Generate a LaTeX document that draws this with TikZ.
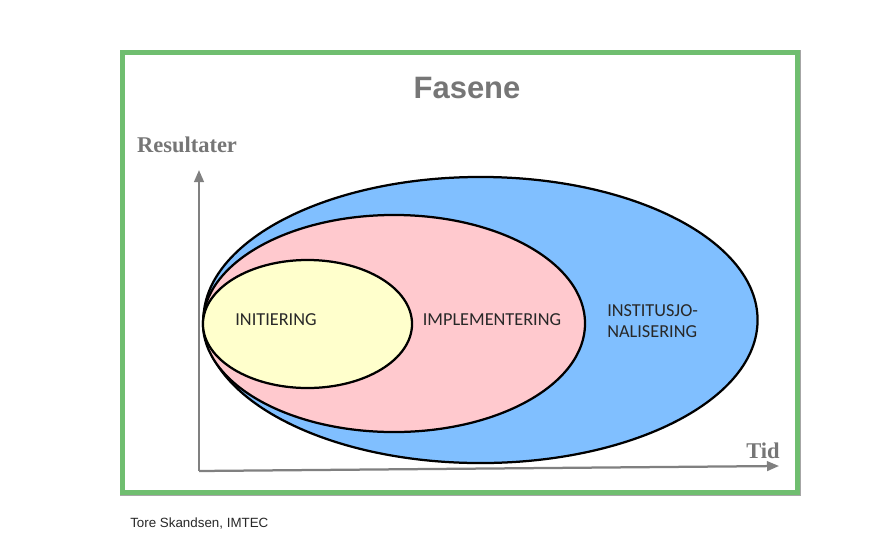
\documentclass[tikz,border=0pt]{standalone}
\usepackage{fontspec}
\setmainfont{Liberation Sans}
\newfontfamily\labelfont{Carlito}
\newfontfamily\axisfont{Liberation Serif}
\usetikzlibrary{arrows.meta,positioning,shapes.geometric}
\definecolor{fsgreen}{RGB}{112,190,112}
\definecolor{fsgray}{RGB}{128,128,128}
\definecolor{fstext}{RGB}{118,118,118}
\definecolor{fsblue}{RGB}{128,191,255}
\definecolor{fspink}{RGB}{255,201,206}
\definecolor{fsyellow}{RGB}{255,255,204}
\definecolor{fsdark}{RGB}{40,40,40}
\tikzset{
  phase/.style={ellipse, draw=black, line width=1.6pt, inner sep=0pt},
  phaselabel/.style={font=\labelfont\fontsize{13}{15}\selectfont, text=fsdark, align=left, inner sep=0pt},
  axis/.style={-{Triangle[length=3mm,width=2.4mm]}, line width=1.6pt, draw=fsgray},
  axislabel/.style={font=\axisfont\bfseries\fontsize{16}{18}\selectfont, text=fstext, inner sep=0pt}
}
\begin{document}
\begin{tikzpicture}[x=0.025cm,y=-0.025cm]
\useasboundingbox (0,0) rectangle (872,553);
\fill[white] (0,0) rectangle (872,553);
% frame
\draw[draw=fsgray!70, line width=0.5pt] (120,50) rectangle (800,495);
\draw[draw=fsgreen, line width=3pt] (122.5,52.5) rectangle (797.5,492.5);
\node[font=\bfseries\fontsize{22}{26}\selectfont, text=fstext] (title) at (467,88) {Fasene};
% phases
\node[phase, fill=fsblue, minimum width=13.85cm, minimum height=7.15cm] (inst) at (480.5,320) {};
\node[phase, fill=fspink, minimum width=9.55cm, minimum height=5.425cm] (impl) at (394,323.5) {};
\node[phase, fill=fsyellow, minimum width=5.225cm, minimum height=3.2cm] (init) at (307.5,324) {};
\node[phaselabel] (initlbl) at (276,320) {INITIERING};
\node[phaselabel] (impllbl) at (492,320) {IMPLEMENTERING};
\node[phaselabel, anchor=west] (instlbl) at (607,321) {INSTITUSJO-\\NALISERING};
% axes
\coordinate (origin) at (199,471);
\coordinate (ytip) at (199,170);
\coordinate (xtip) at (779,466);
\draw[axis] (origin) -- (ytip);
\draw[axis] (origin) -- (xtip);
\node[axislabel] (ylbl) at (187,145) {Resultater};
\node[axislabel] (xlbl) at (763,451) {Tid};
\node[font=\fontsize{9.5}{11}\selectfont, text=fsdark, anchor=west, inner sep=0pt] (credit) at (130,524) {Tore Skandsen, IMTEC};
\end{tikzpicture}
\end{document}
